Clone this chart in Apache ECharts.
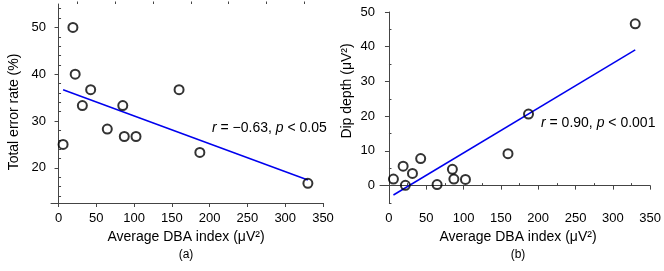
<!DOCTYPE html>
<html>
<head>
<meta charset="utf-8">
<title>DBA index</title>
<script src="https://cdn.jsdelivr.net/npm/echarts@6/dist/echarts.min.js"></script>
</head>
<body style="margin:0;background:#fff">
<div id="main" style="width:664px;height:271px;"></div>
<script>
// data
var dbaIndex = [6, 19, 22, 31.5, 42.5, 64.5, 85, 87, 102.5, 159.5, 187, 330];
var errorRate = [25, 50, 40, 33.3, 36.7, 28.3, 33.3, 26.7, 26.7, 36.7, 23.3, 16.7];
var dipDepth = [1.9, 5.6, 0.1, 3.5, 7.8, 0.3, 4.7, 1.9, 1.8, 9.2, 20.6, 46.6];
var fitErrX = [6, 330], fitErrY = [36.7, 17.4];
var fitDipX = [6, 330], fitDipY = [-2.7, 39.1];

// ticks
var xTicks = [0, 50, 100, 150, 200, 250, 300, 350];
var xMinor = [25, 75, 125, 175, 225, 275, 325];
var errTicks = [20, 30, 40, 50];
var errMinor = [14, 16, 18, 22, 24, 26, 28, 32, 34, 36, 38, 42, 44, 46, 48, 52, 54];
var dipTicks = [0, 10, 20, 30, 40, 50];
var dipMinor = [-5, 5, 15, 25, 35, 45];

var font = 'Liberation Sans, Arial, sans-serif';
var axisCol = '#444';

function pairs(xs, ys) {
	return xs.map(function (x, i) { return [x, ys[i]]; });
}

// two axes per side: one with labels + major ticks, one with only minor ticks
function axes(grid, min, max, major, minor, gap) {
	return [{
		type: 'value', gridIndex: grid, min: min, max: max,
		splitLine: { show: false },
		axisLine: { show: true, lineStyle: { color: axisCol, width: 1 } },
		axisTick: { show: true, length: 4, customValues: major, lineStyle: { color: axisCol } },
		axisLabel: { customValues: major, color: '#000', fontSize: 13, fontFamily: font, margin: gap }
	}, {
		type: 'value', gridIndex: grid, min: min, max: max,
		splitLine: { show: false },
		axisLine: { show: false },
		axisTick: { show: true, length: 2.5, customValues: minor, lineStyle: { color: axisCol } },
		axisLabel: { show: false }
	}];
}

var txt = { fontSize: 14, fontFamily: font, fill: '#000' };
function label(x, y, text, extra) {
	var s = Object.assign({ text: text, textAlign: 'center', textVerticalAlign: 'middle' }, txt, extra || {});
	return { type: 'text', x: x, y: y, style: s };
}
function corr(x, y, rv, pv) {
	return {
		type: 'text', x: x, y: y,
		style: {
			text: '{i|r} = ' + rv + ', {i|p} < ' + pv,
			textAlign: 'left', textVerticalAlign: 'middle',
			fontSize: 14, fontFamily: font, fill: '#000',
			rich: { i: { fontStyle: 'italic', fontSize: 14, fontFamily: font } }
		}
	};
}

var scatterStyle = {
	type: 'scatter', symbol: 'circle', symbolSize: 9,
	itemStyle: { color: 'rgba(255,255,255,0)', borderColor: '#000', borderWidth: 2 },
	z: 3
};

var chart = echarts.init(document.getElementById('main'));
chart.setOption({
	animation: false,
	backgroundColor: '#fff',
	grid: [
		{ left: 51, top: 4, width: 272, height: 199 },
		{ left: 380, top: 12, width: 273, height: 191 }
	],
	xAxis: axes(0, -10, 350, xTicks, xMinor, 9).concat(axes(1, -12, 350, xTicks, xMinor, 9)),
	yAxis: axes(0, 12.5, 55, errTicks, errMinor, 5).concat(axes(1, -5, 50, dipTicks, dipMinor, 5)),
	series: [
		{ type: 'line', xAxisIndex: 0, yAxisIndex: 0, data: pairs(fitErrX, fitErrY), symbol: 'none',
			lineStyle: { color: '#0000ee', width: 1.5 } },
		Object.assign({ xAxisIndex: 0, yAxisIndex: 0, data: pairs(dbaIndex, errorRate) }, scatterStyle),
		{ type: 'line', xAxisIndex: 2, yAxisIndex: 2, data: pairs(fitDipX, fitDipY), symbol: 'none',
			lineStyle: { color: '#0000ee', width: 1.5 } },
		Object.assign({ xAxisIndex: 2, yAxisIndex: 2, data: pairs(dbaIndex, dipDepth) }, scatterStyle)
	],
	graphic: [
		label(14, 112, 'Total error rate (%)', {}),
		label(186, 237, 'Average DBA index (μV²)'),
		label(186, 255, '(a)', { fontSize: 12 }),
		label(347, 91, 'Dip depth (μV²)'),
		label(518, 237, 'Average DBA index (μV²)'),
		label(518, 255, '(b)', { fontSize: 12 }),
		corr(212, 128, '−0.63', '0.05'),
		corr(541, 123, '0.90', '0.001')
	].map(function (g, i) {
		if (i === 0 || i === 3) g.rotation = Math.PI / 2;
		return g;
	})
});
</script>
</body>
</html>
